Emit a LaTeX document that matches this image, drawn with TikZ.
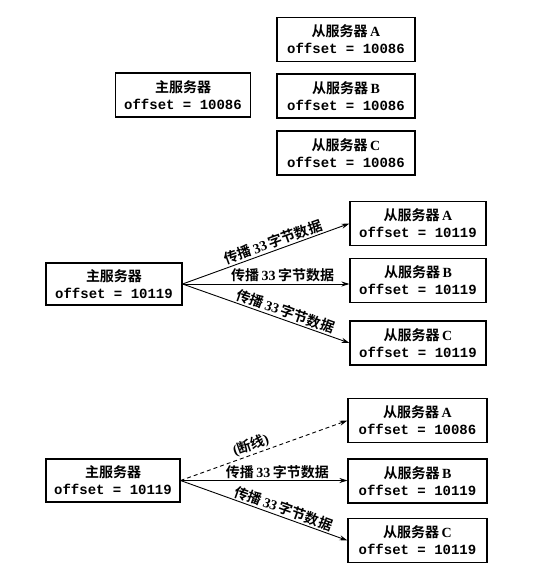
\documentclass[tikz,border=0pt]{standalone}
\usepackage{fontspec}
\setmainfont{Liberation Serif}
\setmonofont{Liberation Mono}
\newfontfamily\cjk{Noto Sans CJK SC Bold}
\usetikzlibrary{arrows.meta}
\tikzset{
  box/.style={draw, line width=1.1pt, minimum width=138pt, minimum height=44pt,
    align=center, inner sep=1pt, font=\fontsize{14}{17}\selectfont},
  conn/.style={line width=0.9pt, -{Stealth[length=8pt,width=5pt]}},
  lab/.style={font=\fontsize{14}{16}\selectfont, inner sep=1.5pt}
}
\newcommand{\srv}[2]{{\cjk #1}\\{\ttfamily\bfseries offset = #2}}
\newcommand{\slv}[3]{{\cjk 从服务器}\hspace{2.5pt}{\bfseries #1}\\{\ttfamily\bfseries offset = #2}}
\newcommand{\cb}{{\cjk 传播}\hspace{2.5pt}{\bfseries 33}\hspace{2.5pt}{\cjk 字节数据}}
\begin{document}
\begin{tikzpicture}[x=1pt,y=-1pt]
\useasboundingbox (0,0) rectangle (540,584);
% panel 1
\node[box, minimum width=135pt] (m1) at (183,95) {\srv{主服务器}{10086}};
\node[box] (a1) at (346,39.5) {\slv{A}{10086}{}};
\node[box] (b1) at (346,96) {\slv{B}{10086}{}};
\node[box] (c1) at (346,153) {\slv{C}{10086}{}};
% panel 2
\node[box, minimum width=136pt, minimum height=42pt] (m2) at (114,284) {\srv{主服务器}{10119}};
\node[box, minimum width=136pt] (a2) at (418,223.5) {\slv{A}{10119}{}};
\node[box, minimum width=136pt] (b2) at (418,280.5) {\slv{B}{10119}{}};
\node[box, minimum width=136pt] (c2) at (418,343) {\slv{C}{10119}{}};
\draw[conn] (m2.east) -- node[lab, pos=0.56, above, sloped] {\cb} (a2.west);
\draw[conn] (m2.east) -- node[lab, pos=0.6, above] {\cb} (m2.east -| b2.west);
\draw[conn] (m2.east) -- node[lab, pos=0.6, above, sloped] {\cb} (c2.west);
% panel 3
\node[box, minimum width=134pt, minimum height=43pt] (m3) at (113,480.5) {\srv{主服务器}{10119}};
\node[box, minimum width=139pt] (a3) at (417.5,420.5) {\slv{A}{10086}{}};
\node[box, minimum width=139pt] (b3) at (417.5,481) {\slv{B}{10119}{}};
\node[box, minimum width=139pt] (c3) at (417.5,540.5) {\slv{C}{10119}{}};
\draw[conn, dashed, dash pattern=on 4pt off 3pt] (m3.east) -- node[lab, pos=0.44, above, sloped] {{\bfseries (}{\cjk 断线}{\bfseries )}} (a3.west);
\draw[conn] (m3.east) -- node[lab, pos=0.58, above] {\cb} (m3.east -| b3.west);
\draw[conn] (m3.east) -- node[lab, pos=0.6, above, sloped] {\cb} (c3.west);
\end{tikzpicture}
\end{document}
